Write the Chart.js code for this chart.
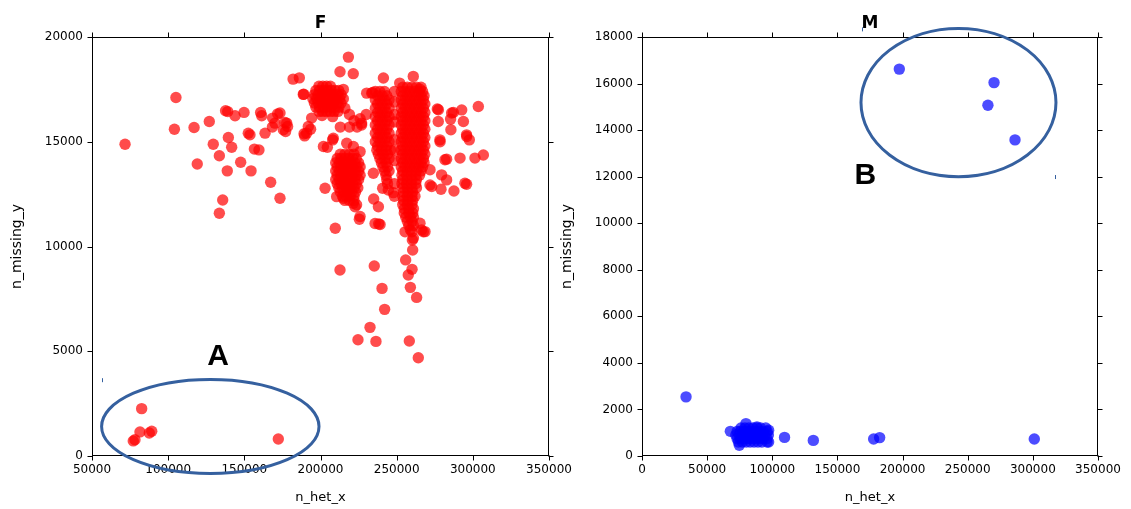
<!DOCTYPE html>
<html>
<head>
<meta charset="utf-8">
<title>n_het_x vs n_missing_y</title>
<script src="https://cdn.jsdelivr.net/npm/chart.js@4.4.0/dist/chart.umd.min.js"></script>
<style>
  html, body { margin: 0; padding: 0; background: #fff; }
  #wrap { position: relative; width: 1131px; height: 509px; overflow: hidden; }
  .box { position: absolute; top: 0; height: 509px; }
  #boxF { left: 0; width: 600px; }
  #boxM { left: 550px; width: 581px; }
</style>
</head>
<body>
<div id="wrap">
  <div class="box" id="boxF"><canvas id="chartF"></canvas></div>
  <div class="box" id="boxM"><canvas id="chartM"></canvas></div>
</div>
<script>
/* ── Data: [n_het_x, n_missing_y] ── */

// F — the low outliers (circled "A")
const fGroupA = [
  [82600, 2260], [81500, 1150], [78200, 780], [77100, 720], [89200, 1180], [87600, 1100], [172300, 810]
];

// F — scattered points on the left side
const fLeft = [
  [71700, 14880], [105100, 17110], [104100, 15600], [117000, 15680], [127000, 15970], [137700, 16480],
  [139100, 16440], [143900, 16240], [149800, 16400], [160700, 16400], [161400, 16240], [171900, 16330],
  [173400, 16370], [170100, 15890], [176700, 15920], [178400, 15730], [175600, 15570], [168400, 15700],
  [163600, 15410], [152600, 15410], [153700, 15330], [129600, 14880], [139500, 15200], [141700, 14740],
  [133600, 14330], [119100, 13940], [147600, 14020], [138800, 13610], [154400, 13610], [156600, 14650],
  [159600, 14610], [167300, 13070], [173400, 12300], [135800, 12220], [133600, 11590], [168600, 16130],
  [177800, 15890], [177100, 15490],
  [182000, 17990], [186100, 18050], [188700, 17260], [189600, 15280], [189200, 15380], [193500, 15600],
  [192000, 15730], [194200, 16130], [190900, 15410], [201900, 14770], [204500, 14740], [208000, 15090]
];

// F — dense group around 205k / 17k
const fBlobTop = [
  [199000, 17650], [201500, 17650], [204000, 17650], [206500, 17650],
  [197000, 17450], [199500, 17450], [202000, 17450], [204500, 17450], [207000, 17450], [209500, 17450], [212000, 17450],
  [196000, 17250], [198500, 17250], [201000, 17250], [203500, 17250], [206000, 17250], [208500, 17250], [211000, 17250], [213500, 17250],
  [195000, 17050], [197500, 17050], [200000, 17050], [202500, 17050], [205000, 17050], [207500, 17050], [210000, 17050], [212500, 17050], [215000, 17050],
  [196000, 16850], [198500, 16850], [201000, 16850], [203500, 16850], [206000, 16850], [208500, 16850], [211000, 16850], [213500, 16850],
  [197000, 16650], [199500, 16650], [202000, 16650], [204500, 16650], [207000, 16650], [209500, 16650], [212000, 16650],
  [199000, 16450], [201500, 16450], [204000, 16450], [206500, 16450], [209000, 16450], [211500, 16450],
  [189000, 17270], [215000, 17500], [216000, 16600], [219000, 16300], [201000, 16250], [208000, 16200],
  [222000, 16000], [226000, 16100], [227000, 15800], [230000, 16300], [224000, 15700], [219000, 15700],
  [213000, 15700]
];

// F — dense group around 218k / 13.5k
const fBlobMid = [
  [208400, 15170], [217200, 14930], [221600, 14770], [226000, 14530],
  [213000, 14400], [216000, 14400], [219000, 14400], [222000, 14400],
  [211000, 14200], [213500, 14200], [216000, 14200], [218500, 14200], [221000, 14200], [223500, 14200],
  [210000, 14000], [212500, 14000], [215000, 14000], [217500, 14000], [220000, 14000], [222500, 14000], [225000, 14000],
  [211000, 13800], [213500, 13800], [216000, 13800], [218500, 13800], [221000, 13800], [223500, 13800], [226000, 13800],
  [210000, 13600], [212500, 13600], [215000, 13600], [217500, 13600], [220000, 13600], [222500, 13600], [225000, 13600],
  [211000, 13400], [213500, 13400], [216000, 13400], [218500, 13400], [221000, 13400], [223500, 13400], [226000, 13400],
  [210000, 13200], [212500, 13200], [215000, 13200], [217500, 13200], [220000, 13200], [222500, 13200], [225000, 13200],
  [211000, 13000], [213500, 13000], [216000, 13000], [218500, 13000], [221000, 13000], [223500, 13000],
  [212000, 12800], [214500, 12800], [217000, 12800], [219500, 12800], [222000, 12800], [224500, 12800],
  [213000, 12600], [215500, 12600], [218000, 12600], [220500, 12600], [223000, 12600],
  [214500, 12400], [217000, 12400], [219500, 12400], [222000, 12400],
  [216000, 12200], [219000, 12200], [222000, 12200],
  [203000, 12780], [210600, 12380], [215000, 12300], [222700, 11900], [226000, 11430],
  [225500, 11300], [221500, 12060], [223700, 11990], [209700, 10870]
];

// F — column around 240k
const fColMid = [
  [241300, 18040], [233600, 17320], [230300, 17320], [234200, 17350], [227000, 15890],
  [236000, 17400], [239000, 17400], [242000, 17400],
  [237500, 17200], [240500, 17200], [243500, 17200],
  [236000, 17000], [239000, 17000], [242000, 17000], [245000, 17000],
  [237500, 16800], [240500, 16800], [243500, 16800],
  [236000, 16600], [239000, 16600], [242000, 16600], [245000, 16600],
  [237500, 16400], [240500, 16400], [243500, 16400],
  [236000, 16200], [239000, 16200], [242000, 16200], [245000, 16200],
  [237500, 16000], [240500, 16000], [243500, 16000],
  [236000, 15800], [239000, 15800], [242000, 15800], [245000, 15800],
  [237500, 15600], [240500, 15600], [243500, 15600],
  [236000, 15400], [239000, 15400], [242000, 15400], [245000, 15400],
  [237500, 15200], [240500, 15200], [243500, 15200],
  [236000, 15000], [239000, 15000], [242000, 15000], [245000, 15000],
  [237500, 14800], [240500, 14800], [243500, 14800],
  [237000, 14600], [240000, 14600], [243000, 14600], [246000, 14600],
  [238000, 14400], [241000, 14400], [244000, 14400],
  [239000, 14200], [242000, 14200], [245000, 14200],
  [240000, 14000], [243000, 14000],
  [241000, 13800], [244000, 13800],
  [242000, 13600], [245000, 13600],
  [243000, 13400], [243500, 13200], [244000, 13000],
  [234700, 13500], [240800, 12780], [244500, 12700], [247800, 12570], [238000, 11900],
  [235800, 11100], [239100, 11050], [238200, 11080], [234900, 12270],
  [248500, 17400], [248500, 16900], [248500, 16300], [248500, 15950], [248500, 15100],
  [248500, 14600], [248500, 14100], [248500, 13000], [248500, 12400]
];

// F — column around 260k
const fColRight = [
  [260900, 18120], [265300, 17510], [252000, 17800],
  [254000, 17600], [257000, 17600], [260000, 17600], [263000, 17600], [266000, 17600],
  [253000, 17400], [255500, 17400], [258500, 17400], [261500, 17400], [264500, 17400], [267000, 17400],
  [254000, 17200], [257000, 17200], [260000, 17200], [263000, 17200], [266000, 17200], [268000, 17200],
  [253000, 17000], [255500, 17000], [258500, 17000], [261500, 17000], [264500, 17000], [267500, 17000],
  [254000, 16800], [257000, 16800], [260000, 16800], [263000, 16800], [266000, 16800], [268500, 16800],
  [253000, 16600], [255500, 16600], [258500, 16600], [261500, 16600], [264500, 16600], [267500, 16600],
  [254000, 16400], [257000, 16400], [260000, 16400], [263000, 16400], [266000, 16400], [268500, 16400],
  [253000, 16200], [255500, 16200], [258500, 16200], [261500, 16200], [264500, 16200], [267500, 16200],
  [254000, 16000], [257000, 16000], [260000, 16000], [263000, 16000], [266000, 16000], [268500, 16000],
  [253000, 15800], [255500, 15800], [258500, 15800], [261500, 15800], [264500, 15800], [267500, 15800],
  [254000, 15600], [257000, 15600], [260000, 15600], [263000, 15600], [266000, 15600], [268500, 15600],
  [253000, 15400], [255500, 15400], [258500, 15400], [261500, 15400], [264500, 15400], [267500, 15400],
  [254000, 15200], [257000, 15200], [260000, 15200], [263000, 15200], [266000, 15200], [268500, 15200],
  [253000, 15000], [255500, 15000], [258500, 15000], [261500, 15000], [264500, 15000], [267500, 15000],
  [254000, 14800], [257000, 14800], [260000, 14800], [263000, 14800], [266000, 14800], [268500, 14800],
  [253000, 14600], [255500, 14600], [258500, 14600], [261500, 14600], [264500, 14600], [267500, 14600],
  [254000, 14400], [257000, 14400], [260000, 14400], [263000, 14400], [266000, 14400], [268500, 14400],
  [253000, 14200], [255500, 14200], [258500, 14200], [261500, 14200], [264500, 14200], [267500, 14200],
  [254000, 14000], [257000, 14000], [260000, 14000], [263000, 14000], [266000, 14000], [268000, 14000],
  [253000, 13800], [255500, 13800], [258500, 13800], [261500, 13800], [264500, 13800], [267000, 13800],
  [254000, 13600], [257000, 13600], [260000, 13600], [263000, 13600], [266000, 13600],
  [253500, 13400], [256500, 13400], [259500, 13400], [262500, 13400], [265000, 13400],
  [254000, 13200], [257000, 13200], [260000, 13200], [263000, 13200],
  [253500, 13000], [256500, 13000], [259500, 13000], [262500, 13000],
  [254000, 12800], [257000, 12800], [260000, 12800], [263000, 12800],
  [254500, 12600], [257500, 12600], [260500, 12600],
  [254000, 12400], [257000, 12400], [260000, 12400], [262000, 12400],
  [254500, 12200], [257500, 12200], [260500, 12200],
  [254000, 12000], [257000, 12000], [260000, 12000],
  [255000, 11800], [258000, 11800], [261000, 11800],
  [255000, 11600], [258000, 11600], [260500, 11600],
  [256000, 11400], [259000, 11400], [261000, 11400],
  [257000, 11200], [260000, 11200],
  [258000, 11000], [261000, 11000],
  [259000, 10800],
  [255500, 10700], [260000, 10700], [267500, 10700], [265300, 11110],
  [261000, 10400], [260300, 10310], [260500, 9830], [255900, 9360], [260100, 8910],
  [257600, 8640], [259000, 8050], [263100, 7570]
];

// F — scattered points right of the columns
const fRight = [
  [303600, 16680], [306900, 14370], [301400, 14220], [291600, 14220], [282800, 14170], [278400, 15090],
  [295900, 15330], [297700, 15090], [294800, 13020], [295900, 12970], [287600, 12650], [279100, 12730],
  [279500, 13420], [282800, 13180], [271900, 13660], [271900, 12940], [285600, 15570], [287200, 16400],
  [292700, 16520], [285400, 16080], [293800, 15970], [276700, 16560], [277400, 16530], [277300, 15970],
  [286100, 16370], [296000, 15250], [278500, 15000], [266400, 10790], [268600, 10710], [281700, 14140],
  [273000, 12860]
];

// F — the low tail below the columns, and the few highest points
const fTail = [
  [212800, 8880], [235300, 9070], [240400, 8000], [242100, 7000], [232500, 6140], [224600, 5550],
  [236400, 5470], [258300, 5490], [264200, 4690], [212800, 18340], [221500, 18250], [218300, 19040]
];

// M — main cluster and outliers
const mCluster = [
  [67800, 1060], [79800, 1390], [97200, 1110], [97200, 600], [74700, 460], [88200, 1250],
  [76000, 1200], [79000, 1200], [82000, 1200], [85000, 1200], [88000, 1200], [91000, 1200], [95000, 1200],
  [73000, 1050], [75500, 1050], [78000, 1050], [80500, 1050], [83000, 1050], [85500, 1050], [88000, 1050],
  [90500, 1050], [93000, 1050], [96000, 1050],
  [72000, 900], [74500, 900], [77000, 900], [79500, 900], [82000, 900], [84500, 900], [87000, 900],
  [89500, 900], [92000, 900], [94500, 900], [97000, 900],
  [73000, 750], [75500, 750], [78000, 750], [80500, 750], [83000, 750], [85500, 750], [88000, 750],
  [90500, 750], [93000, 750], [96000, 750],
  [74000, 600], [77000, 600], [80000, 600], [83000, 600], [86000, 600], [89000, 600], [92000, 600], [96000, 600]
];
const mOutliers = [
  [33800, 2540], [109400, 800], [131500, 670], [177800, 730], [182400, 790], [301100, 730]
];
// M — the high group (circled "B")
const mGroupB = [
  [197500, 16620], [270200, 16040], [265500, 15070], [286300, 13580]
];

// Axis ranges / ticks: min, max, step
const fXTicks = [50000, 350000, 50000];
const fYTicks = [0, 20000, 5000];
const mXTicks = [0, 350000, 50000];
const mYTicks = [0, 18000, 2000];

/* ── Style ── */
const RED = 'rgba(255,0,0,0.7)';
const BLUE = 'rgba(0,0,255,0.7)';
const RING = '#35609f';
const TICK_LEN = 5;
const FONT = '"DejaVu Sans", sans-serif';

Chart.defaults.font.family = FONT;
Chart.defaults.color = '#000';

/* Frame, outward ticks on all four sides, title and hand-drawn notes */
function overlay(note) {
  return {
    id: 'overlay',
    afterDraw(chart) {
      const { ctx, chartArea: a, scales: { x, y } } = chart;
      const L = Math.round(a.left) + 0.5, R = Math.round(a.right) - 0.5;
      const T = Math.round(a.top) + 0.5, B = Math.round(a.bottom) - 0.5;
      ctx.save();
      ctx.strokeStyle = '#000';
      ctx.lineWidth = 1;
      ctx.strokeRect(L, T, R - L, B - T);
      ctx.beginPath();
      x.ticks.forEach(t => {
        const p = Math.round(x.getPixelForValue(t.value)) + 0.5;
        ctx.moveTo(p, B); ctx.lineTo(p, B + TICK_LEN);
        ctx.moveTo(p, T); ctx.lineTo(p, T - TICK_LEN);
      });
      y.ticks.forEach(t => {
        const p = Math.round(y.getPixelForValue(t.value)) + 0.5;
        ctx.moveTo(L, p); ctx.lineTo(L - TICK_LEN, p);
        ctx.moveTo(R, p); ctx.lineTo(R + TICK_LEN, p);
      });
      ctx.stroke();

      // subplot title
      ctx.fillStyle = '#000';
      ctx.font = 'bold 17px ' + FONT;
      ctx.textAlign = 'center';
      ctx.textBaseline = 'alphabetic';
      ctx.fillText(note.title, (a.left + a.right) / 2, a.top - 9);

      // ellipse
      const e = note.ring;
      const cx = x.getPixelForValue(e.x), cy = y.getPixelForValue(e.y);
      const rx = Math.abs(x.getPixelForValue(e.x + e.rx) - cx);
      const ry = Math.abs(y.getPixelForValue(e.y + e.ry) - cy);
      ctx.strokeStyle = RING;
      ctx.lineWidth = 3;
      ctx.beginPath();
      ctx.ellipse(cx, cy, rx, ry, 0, 0, Math.PI * 2);
      ctx.stroke();

      // letter
      ctx.font = 'bold 30px "Liberation Sans", Arial, sans-serif';
      ctx.fillText(note.letter.text, x.getPixelForValue(note.letter.x), y.getPixelForValue(note.letter.y) + 10.7);

      // stray pen marks
      ctx.lineWidth = 1;
      ctx.beginPath();
      note.marks.forEach(m => {
        const px = Math.round(x.getPixelForValue(m.x)) + 0.5, py = y.getPixelForValue(m.y);
        ctx.moveTo(px, py - 2); ctx.lineTo(px, py + 2);
      });
      ctx.stroke();
      ctx.restore();
    }
  };
}

function buildChart(id, cfg) {
  return new Chart(document.getElementById(id), {
    type: 'scatter',
    data: {
      datasets: [{
        data: cfg.points.map(([x, y]) => ({ x, y })),
        backgroundColor: cfg.color,
        borderWidth: 0,
        pointRadius: 5.7,
        pointHoverRadius: 5.7,
      }],
    },
    options: {
      responsive: true,
      maintainAspectRatio: false,
      animation: false,
      events: [],
      layout: { padding: { top: 37, right: cfg.padRight, bottom: 0, left: 0 } },
      plugins: { legend: { display: false }, tooltip: { enabled: false } },
      scales: {
        x: {
          type: 'linear',
          min: cfg.xTicks[0], max: cfg.xTicks[1],
          grid: { display: false, drawTicks: false },
          border: { display: false },
          ticks: { stepSize: cfg.xTicks[2], padding: 7, maxRotation: 0, autoSkip: false,
                   font: { size: 12 }, callback: v => String(v) },
          title: { display: true, text: 'n_het_x', font: { size: 13 }, padding: { top: 0, bottom: 4 } },
          afterFit(s) { s.height = 53; },
        },
        y: {
          type: 'linear',
          min: cfg.yTicks[0], max: cfg.yTicks[1],
          grid: { display: false, drawTicks: false },
          border: { display: false },
          ticks: { stepSize: cfg.yTicks[2], padding: 9, autoSkip: false,
                   font: { size: 12 }, callback: v => String(v) },
          title: { display: true, text: 'n_missing_y', font: { size: 14 }, padding: { top: 9, bottom: 0 } },
          afterFit(s) { s.width = 92; },
        },
      },
    },
    plugins: [overlay(cfg.note)],
  });
}

buildChart('chartF', {
  points: [...fGroupA, ...fLeft, ...fBlobTop, ...fBlobMid, ...fColMid, ...fColRight, ...fRight, ...fTail],
  color: RED,
  xTicks: fXTicks,
  yTicks: fYTicks,
  padRight: 51,
  note: {
    title: 'F',
    ring: { x: 127660, y: 1410, rx: 71360, ry: 2247 },
    letter: { text: 'A', x: 132720, y: 4861 },
    marks: [{ x: 56565, y: 3618 }],
  },
});

buildChart('chartM', {
  points: [...mCluster, ...mOutliers, ...mGroupB],
  color: BLUE,
  xTicks: mXTicks,
  yTicks: mYTicks,
  padRight: 33,
  note: {
    title: 'M',
    ring: { x: 242910, y: 15183, rx: 74830, ry: 3186 },
    letter: { text: 'B', x: 171380, y: 12143 },
    marks: [{ x: 317210, y: 11984 }, { x: 169080, y: 18327 }],
  },
});
</script>
</body>
</html>
